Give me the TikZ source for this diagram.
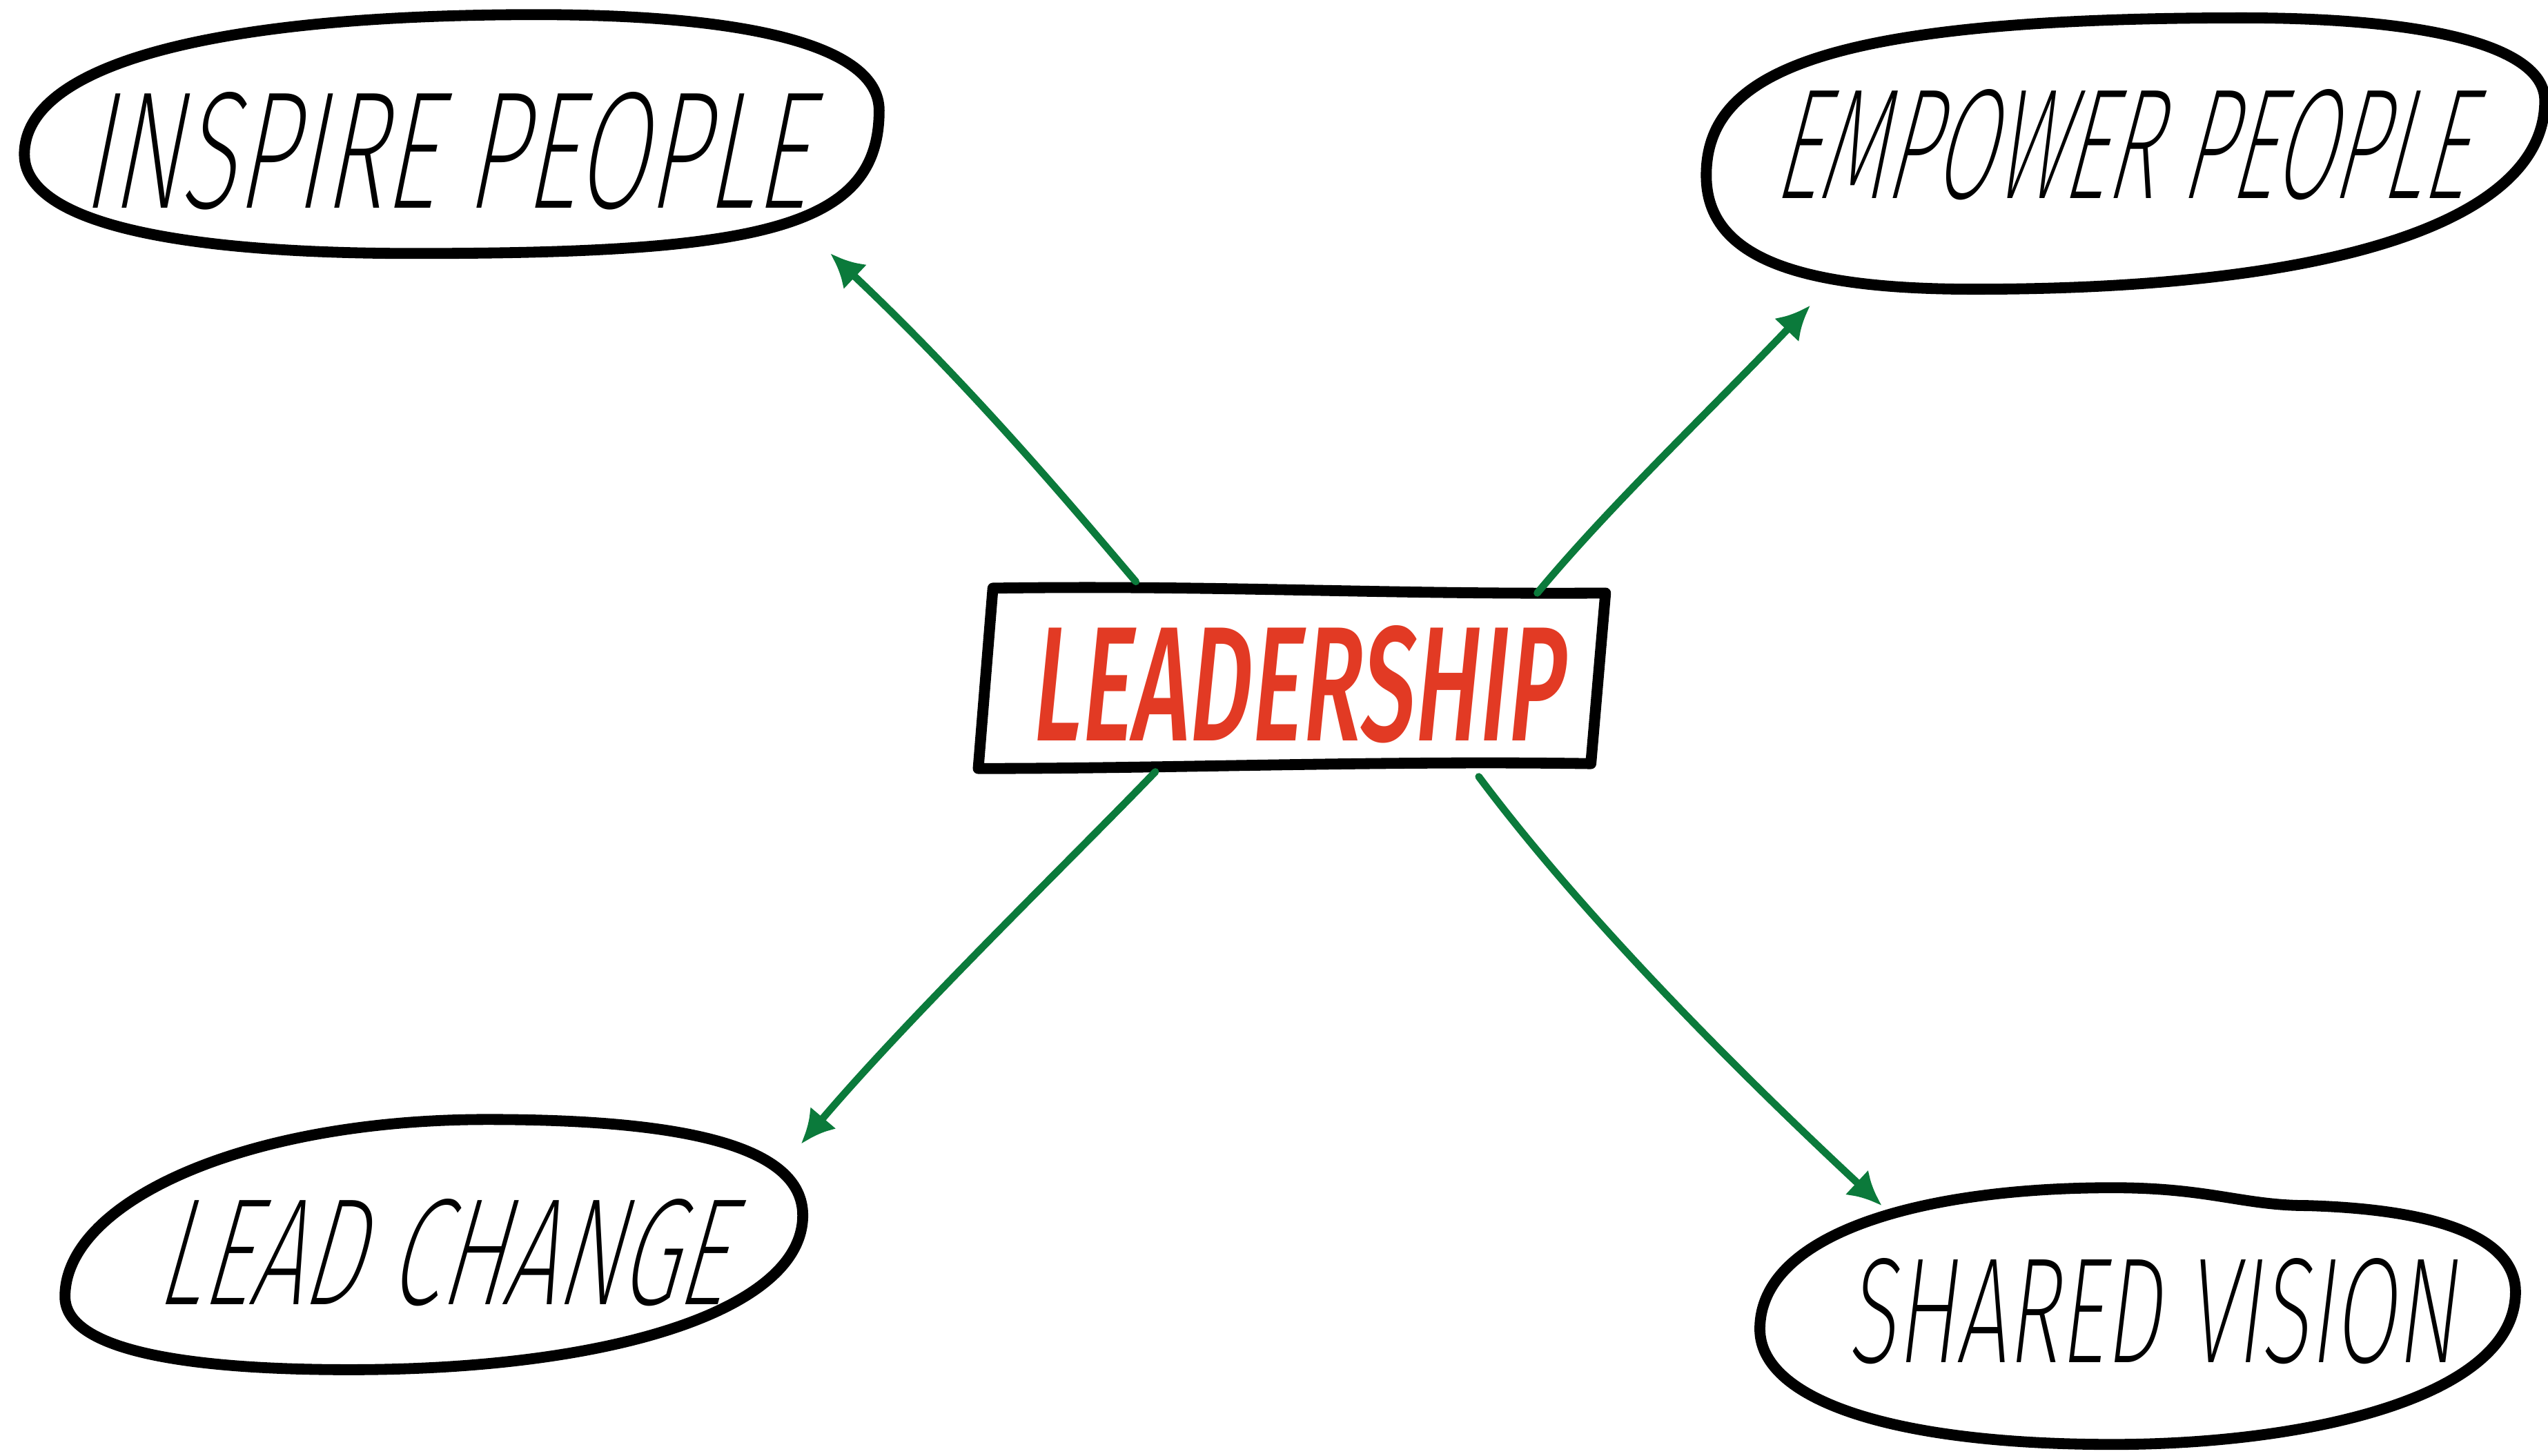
\documentclass[tikz,border=0pt]{standalone}
\usepackage{fontspec}
\IfFontExistsTF{Fira Sans ExtraLight}
  {\newfontfamily\handfont{Fira Sans ExtraLight}}
  {\IfFontExistsTF{Fira Sans Light}
     {\newfontfamily\handfont{Fira Sans Light}}
     {\newfontfamily\handfont{Fira Sans}}}
\IfFontExistsTF{Fira Sans Medium}
  {\newfontfamily\redfont{Fira Sans Medium}}
  {\newfontfamily\redfont{Fira Sans}}
\usetikzlibrary{arrows.meta}
\definecolor{arrowgreen}{HTML}{0B7A3B}
\definecolor{leadred}{HTML}{E23A24}
\tikzset{
  blob/.style={line width=4.5pt, black, line join=round},
  connector/.style={line width=3pt, arrowgreen, line cap=round, -{Latex[length=14pt,width=14pt]}},
  lbl/.style={inner sep=0pt, black, transform shape},
}
\begin{document}
\begin{tikzpicture}[x=0.023546cm, y=-0.023546cm]
\useasboundingbox (0,0) rectangle (1568,896);
\fill[white] (0,0) rectangle (1568,896);
% outlines
% INSPIRE PEOPLE
\draw[blob] (330,9) .. controls (460,9) and (541,28) .. (541,68)
  .. controls (541,140) and (470,156) .. (255,156)
  .. controls (100,156) and (15,135) .. (15,95)
  .. controls (15,40) and (130,9) .. cycle;
% EMPOWER PEOPLE
\draw[blob] (1380,11) .. controls (1500,11) and (1566,30) .. (1566,62)
  .. controls (1566,135) and (1440,178) .. (1215,178)
  .. controls (1110,178) and (1050,160) .. (1050,108)
  .. controls (1050,45) and (1120,11) .. cycle;
% LEAD CHANGE
\draw[blob] (300,689) .. controls (420,689) and (494,705) .. (494,748)
  .. controls (494,805) and (380,843) .. (215,843)
  .. controls (110,843) and (40,830) .. (40,798)
  .. controls (40,740) and (150,689) .. cycle;
% SHARED VISION
\draw[blob] (1300,731) .. controls (1360,731) and (1380,742) .. (1420,742)
  .. controls (1520,745) and (1548,770) .. (1548,795)
  .. controls (1548,860) and (1420,889) .. (1300,889)
  .. controls (1160,889) and (1083,860) .. (1083,818)
  .. controls (1083,760) and (1180,731) .. cycle;
% LEADERSHIP box
\draw[blob] (611,362) .. controls (750,360) and (850,366) .. (988,365) -- (979,470) .. controls (850,468) and (720,473) .. (602,473) -- cycle;
% labels
\begin{scope}[shift={(280,93)}, xslant=0.2]
  \node[lbl] (inspire) at (0,0) {\resizebox{10.5cm}{1.68cm}{\handfont INSPIRE PEOPLE}};
\end{scope}
\begin{scope}[shift={(1312,89)}, xslant=0.26]
  \node[lbl] (empower) at (0,0) {\resizebox{10.0cm}{1.58cm}{\handfont EMPOWER PEOPLE}};
\end{scope}
\begin{scope}[shift={(279,771)}, xslant=0.28]
  \node[lbl] (leadchange) at (0,0) {\resizebox{8.22cm}{1.53cm}{\handfont LEAD CHANGE}};
\end{scope}
\begin{scope}[shift={(1328,807)}, xslant=0.12]
  \node[lbl] (shared) at (0,0) {\resizebox{8.81cm}{1.51cm}{\handfont SHARED VISION}};
\end{scope}
\begin{scope}[shift={(801,421)}, xslant=0.1]
  \node[lbl, text=leadred] (leadership) at (0,0) {\resizebox{7.7cm}{1.67cm}{\redfont LEADERSHIP}};
\end{scope}
% connector end points
\coordinate (t1) at (699,358);
\coordinate (h1) at (511,156);
\coordinate (t2) at (946,365);
\coordinate (h2) at (1114,188);
\coordinate (t3) at (711,475);
\coordinate (h3) at (493,704);
\coordinate (t4) at (910,478);
\coordinate (h4) at (1158,742);
\draw[connector] (t1) .. controls (665,318) and (600,240) .. (h1);
\draw[connector] (t2) .. controls (990,312) and (1050,255) .. (h2);
\draw[connector] (t3) .. controls (660,528) and (560,625) .. (h3);
\draw[connector] (t4) .. controls (975,565) and (1070,660) .. (h4);
\end{tikzpicture}
\end{document}
